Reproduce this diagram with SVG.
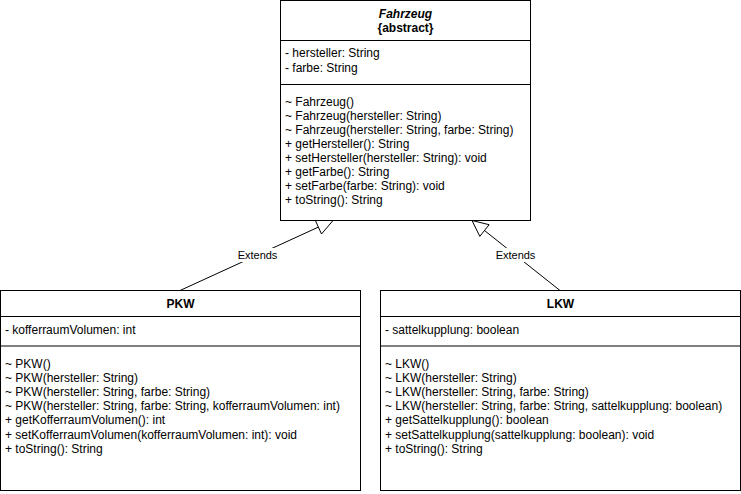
<svg xmlns="http://www.w3.org/2000/svg" width="741" height="494" viewBox="0 0 741 494">
<style>
.box{fill:#fff;stroke:#000;stroke-width:1}
.div{stroke:#000;stroke-width:1}
text{font-family:"Liberation Sans",Arial,Helvetica,sans-serif;font-size:12px;fill:#000}
.t{font-weight:bold;text-anchor:middle}
.ti{font-weight:bold;font-style:italic;text-anchor:middle}
.lbl{font-size:11px;text-anchor:middle}
.edge{fill:none;stroke:#000;stroke-width:1}
.head{fill:#fff;stroke:#000;stroke-width:1}
</style>
<rect width="741" height="494" fill="#fff"/>
<g id="connectors">
<line class="edge" x1="180" y1="290.5" x2="318.4" y2="227.1"/>
<polygon class="head" points="333,220.5 315.3,220.3 321.5,234"/>
<rect x="237" y="248" width="41" height="14" fill="#fff"/>
<text class="lbl" x="257.5" y="259">Extends</text>
<line class="edge" x1="560" y1="290.5" x2="484.6" y2="230.6"/>
<polygon class="head" points="472,220.5 489.1,224.7 479.8,236.4"/>
<rect x="495" y="248" width="41" height="14" fill="#fff"/>
<text class="lbl" x="515.5" y="259">Extends</text>
</g>
<g id="Fahrzeug">
<rect class="box" x="280.5" y="0.5" width="250" height="220"/>
<line class="div" x1="280.5" y1="40.5" x2="530.5" y2="40.5"/>
<line class="div" x1="280.5" y1="84.5" x2="530.5" y2="84.5"/>
<text class="ti" x="405.5" y="17.5">Fahrzeug</text>
<text class="t" x="405.5" y="31.5">{abstract}</text>
<text x="285" y="57">- hersteller: String</text>
<text x="285" y="71.5">- farbe: String</text>
<text x="285" y="105.5">~ Fahrzeug()</text>
<text x="285" y="119.6">~ Fahrzeug(hersteller: String)</text>
<text x="285" y="133.7">~ Fahrzeug(hersteller: String, farbe: String)</text>
<text x="285" y="147.8">+ getHersteller(): String</text>
<text x="285" y="161.9">+ setHersteller(hersteller: String): void</text>
<text x="285" y="176">+ getFarbe(): String</text>
<text x="285" y="190.1">+ setFarbe(farbe: String): void</text>
<text x="285" y="204.2">+ toString(): String</text>
</g>
<g id="PKW">
<rect class="box" x="0.5" y="290.5" width="360" height="200"/>
<line class="div" x1="0.5" y1="316.5" x2="360.5" y2="316.5"/>
<line class="div" x1="0.5" y1="346" x2="360.5" y2="346"/>
<text class="t" x="180.5" y="307.5">PKW</text>
<text x="5" y="334">- kofferraumVolumen: int</text>
<text x="5" y="368">~ PKW()</text>
<text x="5" y="382">~ PKW(hersteller: String)</text>
<text x="5" y="396.2">~ PKW(hersteller: String, farbe: String)</text>
<text x="5" y="410.3">~ PKW(hersteller: String, farbe: String, kofferraumVolumen: int)</text>
<text x="5" y="424.4">+ getKofferraumVolumen(): int</text>
<text x="5" y="438.5">+ setKofferraumVolumen(kofferraumVolumen: int): void</text>
<text x="5" y="452.6">+ toString(): String</text>
</g>
<g id="LKW">
<rect class="box" x="380.5" y="290.5" width="360" height="200"/>
<line class="div" x1="380.5" y1="316.5" x2="740.5" y2="316.5"/>
<line class="div" x1="380.5" y1="346" x2="740.5" y2="346"/>
<text class="t" x="560.5" y="307.5">LKW</text>
<text x="385" y="334">- sattelkupplung: boolean</text>
<text x="385" y="368">~ LKW()</text>
<text x="385" y="382">~ LKW(hersteller: String)</text>
<text x="385" y="396.2">~ LKW(hersteller: String, farbe: String)</text>
<text x="385" y="410.3">~ LKW(hersteller: String, farbe: String, sattelkupplung: boolean)</text>
<text x="385" y="424.4">+ getSattelkupplung(): boolean</text>
<text x="385" y="438.5">+ setSattelkupplung(sattelkupplung: boolean): void</text>
<text x="385" y="452.6">+ toString(): String</text>
</g>
</svg>
